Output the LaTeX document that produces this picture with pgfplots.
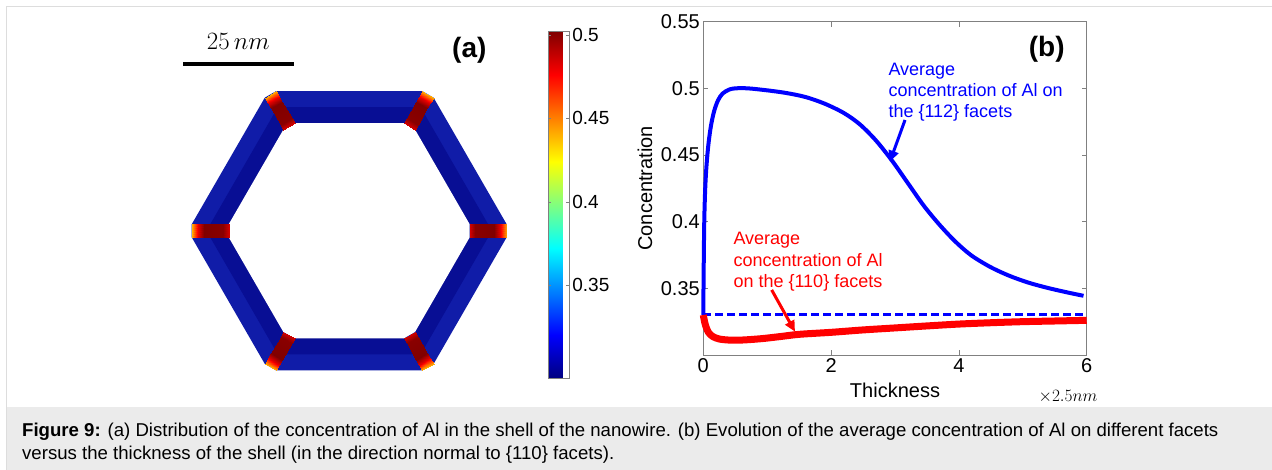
\documentclass[border=0pt]{standalone}
\usepackage{pgfplots}
\pgfplotsset{compat=1.18}
\usepackage{fontspec}
\setmainfont{Liberation Sans}
\usetikzlibrary{calc,arrows.meta}
\definecolor{capgray}{RGB}{235,235,235}
\definecolor{framegray}{RGB}{221,221,221}
\definecolor{outerblue}{RGB}{16,28,168}
\definecolor{innerblue}{RGB}{8,14,148}
\definecolor{mblue}{RGB}{0,0,255}
\definecolor{mred}{RGB}{255,0,0}
\begin{document}
\begin{tikzpicture}[x=1pt,y=1pt]
\path[use as bounding box, fill=white] (0,0) rectangle (1272,470);
\fill[capgray] (7,0) rectangle (1272,63.3);
\draw[framegray, line width=1.5pt] (6.3,0) -- (6.3,463.3) -- (1272,463.3);
% caption
\node[anchor=base west, inner sep=0, font=\fontsize{18.6}{22}\selectfont] at (22,33.3) {\textbf{Figure 9:} (a) Distribution of the concentration of Al in the shell of the nanowire. (b) Evolution of the average concentration of Al on different facets};
\node[anchor=base west, inner sep=0, font=\fontsize{18.6}{22}\selectfont] at (22,10) {versus the thickness of the shell (in the direction normal to \{110\} facets).};
% scale bar
\draw[black, line width=4.5pt] (183.3,405.8) -- (294,405.8);
\node[anchor=base, inner sep=0, font=\fontsize{25}{30}\selectfont] at (238.3,420) {$25\,nm$};
\node[font=\fontsize{28}{32}\selectfont\bfseries] at (469.3,420) {(a)};

% panel (a): hexagonal shell
\begin{axis}[at={(174.2pt,64.2pt)}, anchor=south west, scale only axis,
  width=350pt, height=350pt, xmin=-175, xmax=175, ymin=-175, ymax=175,
  hide axis, clip=false, colormap/jet,
  point meta min=0.294, point meta max=0.502,
  colorbar,
  colorbar style={at={($(parent axis.south east)+(15.4pt,27.5pt)$)}, anchor=south west,
    width=20.7pt, height=346.6pt, ytick={0.35,0.4,0.45,0.5},
    yticklabel style={font=\fontsize{19}{22}\selectfont},
    /pgf/number format/assume math mode=true,
    axis line style={gray, line width=0.6pt}, major tick length=3pt, tick style={gray}}]
\addplot[draw=none, fill=outerblue] coordinates {(157.5,-6.5) (157.5,6.5) (84.38,133.15) (73.12,139.65) (-73.12,139.65) (-84.38,133.15) (-157.5,6.5) (-157.5,-6.5) (-84.38,-133.15) (-73.12,-139.65) (73.12,-139.65) (84.38,-133.15)};
\addplot[draw=none, fill=innerblue] coordinates {(139,-6.5) (139,6.5) (75.13,117.13) (63.87,123.63) (-63.87,123.63) (-75.13,117.13) (-139,6.5) (-139,-6.5) (-75.13,-117.13) (-63.87,-123.63) (63.87,-123.63) (75.13,-117.13)};
\addplot[draw=none, fill=white] coordinates {(120.5,-6.5) (120.5,6.5) (65.88,101.11) (54.62,107.61) (-54.62,107.61) (-65.88,101.11) (-120.5,6.5) (-120.5,-6.5) (-65.88,-101.11) (-54.62,-107.61) (54.62,-107.61) (65.88,-101.11)};
\addplot[patch, patch type=rectangle, shader=interp, point meta=explicit] table[meta=c] {
x y c
157.5 6.5 0.44
157.5 -6.5 0.44
151 -6.5 0.482
151 6.5 0.482
151 6.5 0.482
151 -6.5 0.482
145 -6.5 0.502
145 6.5 0.502
145 6.5 0.502
145 -6.5 0.502
126 -6.5 0.5
126 6.5 0.5
126 6.5 0.5
126 -6.5 0.5
120.5 -6.5 0.485
120.5 6.5 0.485
73.12 139.65 0.44
84.38 133.15 0.44
81.13 127.52 0.482
69.87 134.02 0.482
69.87 134.02 0.482
81.13 127.52 0.482
78.13 122.32 0.502
66.87 128.82 0.502
66.87 128.82 0.502
78.13 122.32 0.502
68.63 105.87 0.5
57.37 112.37 0.5
57.37 112.37 0.5
68.63 105.87 0.5
65.88 101.11 0.485
54.62 107.61 0.485
-84.38 133.15 0.44
-73.12 139.65 0.44
-69.87 134.02 0.482
-81.13 127.52 0.482
-81.13 127.52 0.482
-69.87 134.02 0.482
-66.87 128.82 0.502
-78.13 122.32 0.502
-78.13 122.32 0.502
-66.87 128.82 0.502
-57.37 112.37 0.5
-68.63 105.87 0.5
-68.63 105.87 0.5
-57.37 112.37 0.5
-54.62 107.61 0.485
-65.88 101.11 0.485
-157.5 6.5 0.44
-157.5 -6.5 0.44
-151 -6.5 0.482
-151 6.5 0.482
-151 6.5 0.482
-151 -6.5 0.482
-145 -6.5 0.502
-145 6.5 0.502
-145 6.5 0.502
-145 -6.5 0.502
-126 -6.5 0.5
-126 6.5 0.5
-126 6.5 0.5
-126 -6.5 0.5
-120.5 -6.5 0.485
-120.5 6.5 0.485
-73.12 -139.65 0.44
-84.38 -133.15 0.44
-81.13 -127.52 0.482
-69.87 -134.02 0.482
-69.87 -134.02 0.482
-81.13 -127.52 0.482
-78.13 -122.32 0.502
-66.87 -128.82 0.502
-66.87 -128.82 0.502
-78.13 -122.32 0.502
-68.63 -105.87 0.5
-57.37 -112.37 0.5
-57.37 -112.37 0.5
-68.63 -105.87 0.5
-65.88 -101.11 0.485
-54.62 -107.61 0.485
84.38 -133.15 0.44
73.12 -139.65 0.44
69.87 -134.02 0.482
81.13 -127.52 0.482
81.13 -127.52 0.482
69.87 -134.02 0.482
66.87 -128.82 0.502
78.13 -122.32 0.502
78.13 -122.32 0.502
66.87 -128.82 0.502
57.37 -112.37 0.5
68.63 -105.87 0.5
68.63 -105.87 0.5
57.37 -112.37 0.5
54.62 -107.61 0.485
65.88 -101.11 0.485
};
\end{axis}

% panel (b)
\begin{axis}[at={(703.3pt,115pt)}, anchor=south west, scale only axis,
  width=383.4pt, height=333.3pt,
  xmin=0, xmax=6, ymin=0.3, ymax=0.55,
  xtick={0,2,4,6}, ytick={0.35,0.4,0.45,0.5,0.55},
  tick align=inside, major tick length=5pt,
  axis line style={gray, line width=0.8pt}, tick style={gray, line width=0.8pt},
  ticklabel style={font=\fontsize{20}{24}\selectfont},
  /pgf/number format/assume math mode=true,
  xlabel={Thickness}, ylabel={Concentration},
  label style={font=\fontsize{20}{24}\selectfont},
  xlabel style={at={(axis description cs:0.5,-0.105)}, anchor=center},
  ylabel style={at={(axis description cs:-0.152,0.5)}, anchor=center},
  clip=false]
\addplot[mblue, line width=3pt, dash pattern=on 8pt off 4pt] coordinates {(0,0.33) (6,0.33)};
\addplot[mblue, line width=4pt, smooth, tension=0.5, line join=round] coordinates {
(0,0.33) (0.005,0.36) (0.015,0.40) (0.03,0.425) (0.05,0.442) (0.08,0.458) (0.12,0.472)
(0.17,0.483) (0.23,0.491) (0.3,0.496) (0.4,0.499) (0.5,0.5) (0.7,0.5) (1.0,0.4985)
(1.3,0.4965) (1.6,0.4935) (1.9,0.4885) (2.2,0.4815) (2.45,0.473) (2.7,0.461) (2.95,0.446)
(3.2,0.429) (3.45,0.412) (3.7,0.3975) (3.95,0.3848) (4.2,0.3745) (4.5,0.3658) (4.8,0.3592)
(5.1,0.3541) (5.4,0.3502) (5.7,0.3469) (5.95,0.3444)};
\addplot[mred, line width=7pt, smooth, tension=0.5, line join=round] coordinates {
(0,0.330) (0.03,0.323) (0.08,0.317) (0.15,0.3138) (0.25,0.312) (0.4,0.3112) (0.6,0.3112)
(0.9,0.3122) (1.2,0.3138) (1.5,0.3155) (2.0,0.317) (2.5,0.3188) (3.0,0.3203) (3.5,0.3218)
(4.0,0.3232) (4.5,0.3242) (5.0,0.325) (5.5,0.3255) (6.0,0.326)};
\draw[mblue, line width=3pt, -{Triangle[length=11pt,width=10pt]}] (axis cs:3.157,0.4763) -- (axis cs:2.92,0.445);
\draw[mred, line width=3pt, -{Triangle[length=11pt,width=10pt]}] (axis cs:1.07,0.3488) -- (axis cs:1.435,0.3175);
\end{axis}

\node[font=\fontsize{28}{32}\selectfont\bfseries] at (1046.7,420.8) {(b)};
\node[anchor=base, inner sep=0, font=\fontsize{17}{20}\selectfont] at (1068,68) {$\times 2.5nm$};
% annotations
\begin{scope}[every node/.style={anchor=base west, inner sep=0, font=\fontsize{18}{21}\selectfont}]
\node[text=mblue] at (888.3,394.3) {Average};
\node[text=mblue] at (888.3,373.3) {concentration of Al on};
\node[text=mblue] at (888.3,352.7) {the \{112\} facets};
\node[text=mred] at (733.3,225) {Average};
\node[text=mred] at (733.3,203.3) {concentration of Al};
\node[text=mred] at (733.3,182.7) {on the \{110\} facets};
\end{scope}
\end{tikzpicture}
\end{document}
